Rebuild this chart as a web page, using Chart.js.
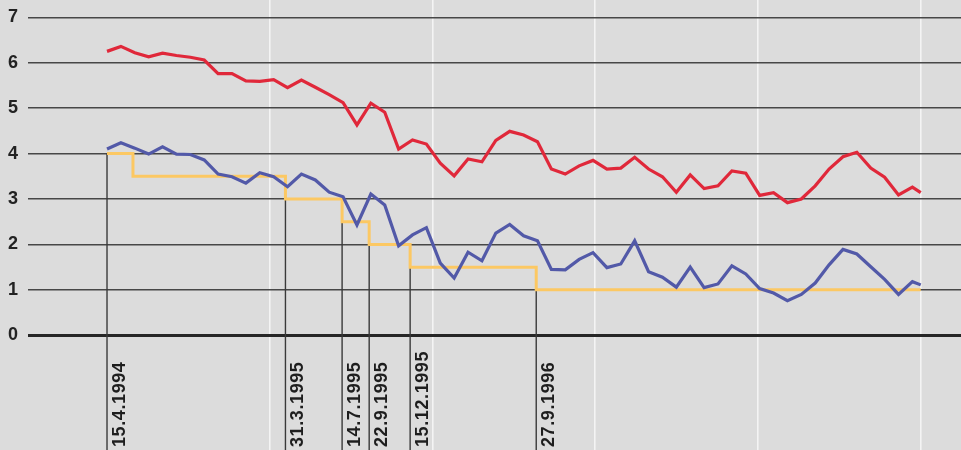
<!DOCTYPE html>
<html><head><meta charset="utf-8">
<script src="https://cdn.jsdelivr.net/npm/chart.js@4/dist/chart.umd.min.js"></script>
<style>html,body{margin:0;padding:0;background:#dcdcdc;overflow:hidden}
#wrap{width:961px;height:450px;position:relative}</style>
</head><body><div id="wrap"><canvas id="c"></canvas></div>
<script>
// x positions of observations (period index)
const periods = [0,1,2,3,4,5,6,7,8,9,10,11,12,13,14,15,16,17,18,19,20,21,22,23,24,25,26,27,28,29,
  30,31,32,33,34,35,36,37,38,39,40,41,42,43,44,45,46,47,48,49,50,51,52,53,54,55,56,57,58,58.6];
const redSeries = [6.25,6.36,6.22,6.13,6.21,6.16,6.12,6.06,5.76,5.76,5.60,5.59,5.63,5.45,5.62,5.46,5.30,5.12,4.63,5.11,
  4.91,4.10,4.30,4.21,3.79,3.51,3.88,3.82,4.29,4.49,4.41,4.26,3.66,3.55,3.73,3.85,3.66,3.68,3.92,3.66,
  3.49,3.15,3.53,3.23,3.29,3.62,3.57,3.08,3.14,2.92,3.00,3.29,3.66,3.93,4.03,3.68,3.48,3.09,3.26,3.14];
const blueSeries = [4.10,4.24,4.12,3.99,4.15,3.99,3.98,3.86,3.55,3.49,3.35,3.58,3.49,3.27,3.55,3.42,3.15,3.05,2.43,3.11,
  2.87,1.97,2.21,2.37,1.59,1.26,1.83,1.64,2.25,2.44,2.19,2.08,1.45,1.44,1.67,1.82,1.49,1.57,2.08,1.40,
  1.28,1.06,1.50,1.05,1.13,1.53,1.35,1.03,0.93,0.76,0.90,1.15,1.55,1.89,1.79,1.51,1.23,0.90,1.18,1.11];
// key rate steps
const stepPos  = [0, 1.87, 12.85, 16.93, 18.88, 21.83, 30.91, 58.6];
const stepRate = [4, 3.5, 3, 2.5, 2, 1.5, 1, 1];
// labelled decision dates
const eventPos    = [0, 12.85, 16.93, 18.88, 21.83, 30.91];
const eventLabels = ['15.4.1994','31.3.1995','14.7.1995','22.9.1995','15.12.1995','27.9.1996'];
const yTicks = [0,1,2,3,4,5,6,7];
const yearLines = [11.72, 23.44, 35.16, 46.88, 58.6];

const bgPlugin = {
  id:'bg',
  beforeDraw(chart){
    const ctx = chart.ctx;
    ctx.save(); ctx.fillStyle = '#dcdcdc';
    ctx.fillRect(0,0,chart.width,chart.height); ctx.restore();
  }
};
const eventPlugin = {
  id:'events',
  beforeDatasetsDraw(chart){
    const {ctx, scales:{x,y}, chartArea} = chart;
    ctx.save();
    eventPos.forEach((p,k)=>{
      const px = x.getPixelForValue(p);
      const val = stepRate[stepPos.indexOf(p)];
      ctx.beginPath();
      ctx.strokeStyle = '#3a3a3a';
      ctx.lineWidth = 1.4;
      ctx.moveTo(px, y.getPixelForValue(val));
      ctx.lineTo(px, chartArea.bottom);
      ctx.stroke();
      ctx.save();
      ctx.translate(px + 18, chartArea.bottom - 3);
      ctx.rotate(-Math.PI/2);
      ctx.font = 'bold 18px "Liberation Sans"';
      ctx.letterSpacing = '0.6px';
      ctx.fillStyle = '#1e1e1e';
      ctx.textAlign = 'left';
      ctx.textBaseline = 'alphabetic';
      ctx.fillText(eventLabels[k], 0, 0);
      ctx.restore();
    });
    ctx.restore();
  }
};

new Chart(document.getElementById('c'), {
  type:'line',
  data:{
    datasets:[
      {data: periods.map((p,i)=>({x:p,y:redSeries[i]})), borderColor:'#e0283a', borderWidth:3.2},
      {data: periods.map((p,i)=>({x:p,y:blueSeries[i]})), borderColor:'#5259a8', borderWidth:3.2},
      {data: stepPos.map((p,i)=>({x:p,y:stepRate[i]})), borderColor:'#fcc863', borderWidth:3, stepped:'before'}
    ]
  },
  options:{
    responsive:true, maintainAspectRatio:false, animation:false, devicePixelRatio:1,
    layout:{padding:0},
    elements:{point:{radius:0}, line:{tension:0, fill:false}},
    plugins:{legend:{display:false}, tooltip:{enabled:false}},
    scales:{
      x:{type:'linear', min:-5.69, max:61.5,
        afterBuildTicks(s){ s.ticks = yearLines.map(v=>({value:v})); },
        afterFit(s){ s.height = 0; s.paddingLeft = 0; s.paddingRight = 0; },
        ticks:{display:false},
        border:{display:false},
        grid:{color:'#f4f4f4', lineWidth:1.6, drawTicks:false}
      },
      y:{type:'linear', min:-2.525, max:7.381,
        afterBuildTicks(s){ s.ticks = yTicks.map(v=>({value:v})); },
        afterFit(s){ s.width = 28; s.paddingTop = 0; s.paddingBottom = 0; },
        border:{display:false},
        ticks:{padding:10, color:'#222', font:{family:'"Liberation Sans"', size:18, weight:'bold'},
          callback:(v)=>String(v)},
        grid:{drawTicks:false,
          color:(c)=>c.tick && c.tick.value===0 ? '#262626' : '#474747',
          lineWidth:(c)=>c.tick && c.tick.value===0 ? 3 : 1.6}
      }
    }
  },
  plugins:[bgPlugin, eventPlugin]
});
</script></body></html>
